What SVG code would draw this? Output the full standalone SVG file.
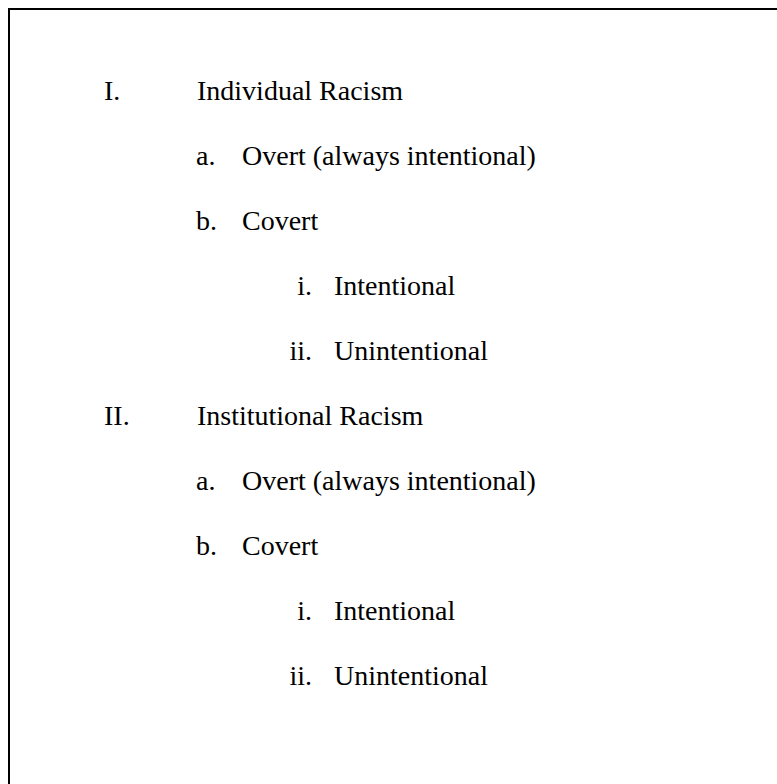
<svg xmlns="http://www.w3.org/2000/svg" width="777" height="784" viewBox="0 0 777 784">
<style>
text{font-family:"Liberation Serif","Times New Roman",serif;font-size:28px;fill:#000}
.num{text-anchor:end}
</style>
<rect width="777" height="784" fill="#fff"/>
<path d="M9,784 V9 H777" fill="none" stroke="#000" stroke-width="2"/>
<g id="item-I"><text x="104" y="100">I.</text><text x="197" y="100">Individual Racism</text></g>
<g id="item-I-a"><text x="196" y="165">a.</text><text x="242" y="165">Overt (always intentional)</text></g>
<g id="item-I-b"><text x="196" y="230">b.</text><text x="242" y="230">Covert</text></g>
<g id="item-I-b-i"><text class="num" x="312" y="295">i.</text><text x="334" y="295">Intentional</text></g>
<g id="item-I-b-ii"><text class="num" x="312" y="360">ii.</text><text x="334" y="360">Unintentional</text></g>
<g id="item-II"><text x="104" y="425">II.</text><text x="197" y="425">Institutional Racism</text></g>
<g id="item-II-a"><text x="196" y="490">a.</text><text x="242" y="490">Overt (always intentional)</text></g>
<g id="item-II-b"><text x="196" y="555">b.</text><text x="242" y="555">Covert</text></g>
<g id="item-II-b-i"><text class="num" x="312" y="620">i.</text><text x="334" y="620">Intentional</text></g>
<g id="item-II-b-ii"><text class="num" x="312" y="685">ii.</text><text x="334" y="685">Unintentional</text></g>
<g id="connectors"></g>
</svg>
